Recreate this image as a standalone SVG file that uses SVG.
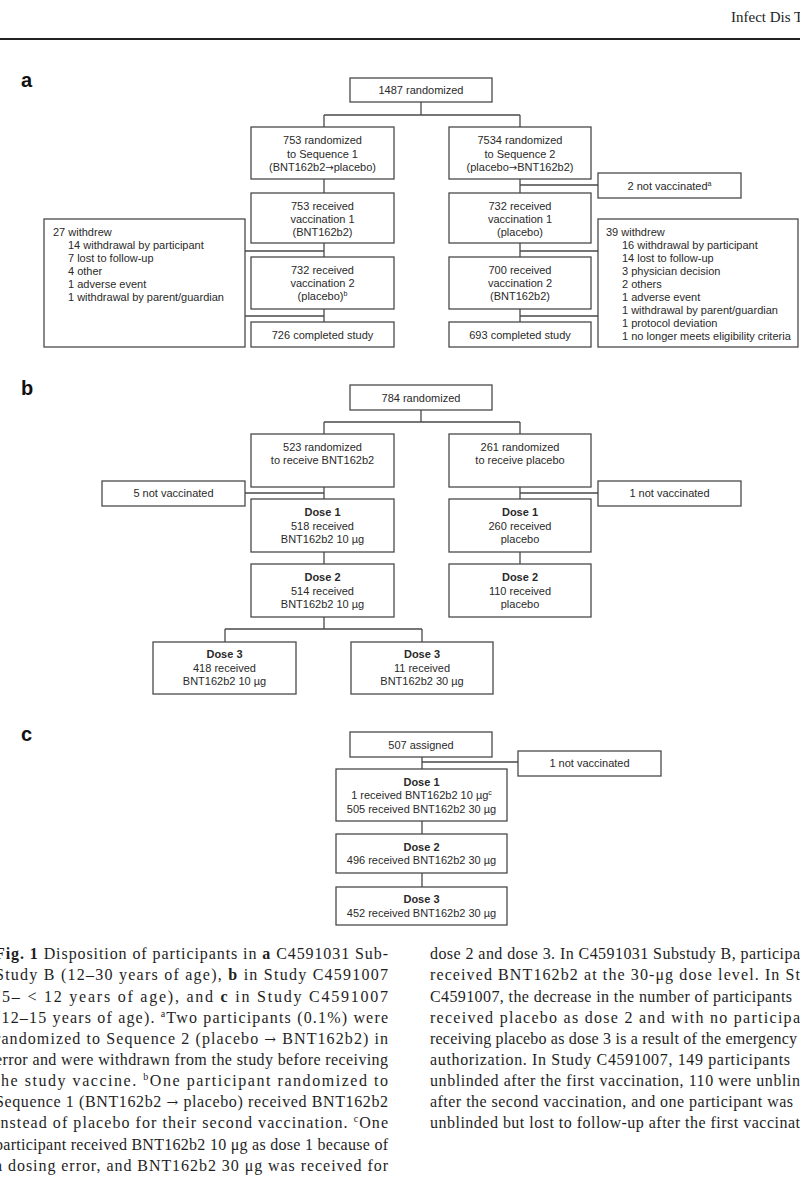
<svg xmlns="http://www.w3.org/2000/svg" width="800" height="1200" viewBox="0 0 800 1200">
<style>
.bx{fill:#fff;stroke:#4a4a4a;stroke-width:1.3}
.t{font-family:"Liberation Sans",Arial,sans-serif;font-size:11px;fill:#2a2a2a;text-anchor:middle}
.tl{font-family:"Liberation Sans",Arial,sans-serif;font-size:11px;fill:#2a2a2a}
.b{font-weight:bold}
.ar{font-family:"DejaVu Sans",sans-serif;font-size:10px}
.arc{font-family:"DejaVu Serif",serif;font-size:14px}
.lbl{font-family:"Liberation Sans",Arial,sans-serif;font-size:20px;font-weight:bold;fill:#111}
.cap{font-family:"Liberation Serif","Times New Roman",serif;font-size:16px;fill:#1e1e1e}
.hd{font-family:"Liberation Serif","Times New Roman",serif;font-size:15px;fill:#1e1e1e}
.cn{fill:none;stroke:#4a4a4a;stroke-width:1.3}
</style>
<rect width="800" height="1200" fill="#fff"/>
<text class="hd" x="731" y="22">Infect Dis T</text>
<line x1="0" y1="39" x2="800" y2="39" stroke="#222" stroke-width="2"/>

<text class="lbl" x="21" y="87">a</text>
<text class="lbl" x="21" y="395">b</text>
<text class="lbl" x="21" y="741">c</text>

<g id="connectors" class="cn">
<path d="M421 102V115M324 115H520M324 115V127M520 115V127"/>
<path d="M324 179V193M520 179V193M520 185H598"/>
<path d="M324 243V257M245 251H324M520 243V257M520 251H598"/>
<path d="M324 309V322M245 316H324M520 309V322M520 316H598"/>
<path d="M421 410V422M324 422H520M324 422V434M520 422V434"/>
<path d="M324 487V499M245 493H324M520 487V499M520 493H598"/>
<path d="M324 552V564M520 552V564"/>
<path d="M324 617V629M225 629H422M225 629V642M422 629V642"/>
<path d="M422 757V769M422 762H518"/>
<path d="M422 821V834M422 873V887"/>
</g>

<g id="a-randomized"><rect class="bx" x="350" y="78" width="142" height="24"/><text class="t" x="421" y="94">1487 randomized</text></g>
<g id="a-seq1"><rect class="bx" x="251" y="127" width="143" height="52"/><text class="t" x="322.5" y="144">753 randomized</text><text class="t" x="322.5" y="157.5">to Sequence 1</text><text class="t" x="322.5" y="171">(BNT162b2<tspan class="ar">→</tspan>placebo)</text></g>
<g id="a-seq2"><rect class="bx" x="449" y="127" width="142" height="52"/><text class="t" x="520" y="144">7534 randomized</text><text class="t" x="520" y="157.5">to Sequence 2</text><text class="t" x="520" y="171">(placebo<tspan class="ar">→</tspan>BNT162b2)</text></g>
<g id="a-notvacc"><rect class="bx" x="598" y="173" width="143" height="25"/><text class="t" x="669.5" y="190">2 not vaccinated<tspan font-size="7" dy="-4">a</tspan></text></g>
<g id="a-vac1-left"><rect class="bx" x="251" y="193" width="143" height="50"/><text class="t" x="322.5" y="210">753 received</text><text class="t" x="322.5" y="223">vaccination 1</text><text class="t" x="322.5" y="236">(BNT162b2)</text></g>
<g id="a-vac1-right"><rect class="bx" x="449" y="193" width="142" height="50"/><text class="t" x="520" y="210">732 received</text><text class="t" x="520" y="223">vaccination 1</text><text class="t" x="520" y="236">(placebo)</text></g>
<g id="a-vac2-left"><rect class="bx" x="251" y="257" width="143" height="52"/><text class="t" x="322.5" y="274">732 received</text><text class="t" x="322.5" y="287">vaccination 2</text><text class="t" x="322.5" y="300">(placebo)<tspan font-size="7" dy="-4">b</tspan></text></g>
<g id="a-vac2-right"><rect class="bx" x="449" y="257" width="142" height="52"/><text class="t" x="520" y="274">700 received</text><text class="t" x="520" y="287">vaccination 2</text><text class="t" x="520" y="300">(BNT162b2)</text></g>
<g id="a-completed-left"><rect class="bx" x="251" y="322" width="143" height="25"/><text class="t" x="322.5" y="339">726 completed study</text></g>
<g id="a-completed-right"><rect class="bx" x="449" y="322" width="142" height="25"/><text class="t" x="520" y="339">693 completed study</text></g>
<g id="a-withdrew-left"><rect class="bx" x="44" y="219" width="201" height="128"/>
<text class="tl" x="53" y="236">27 withdrew</text>
<text class="tl" x="68" y="249">14 withdrawal by participant</text>
<text class="tl" x="68" y="262">7 lost to follow-up</text>
<text class="tl" x="68" y="275">4 other</text>
<text class="tl" x="68" y="288">1 adverse event</text>
<text class="tl" x="68" y="301">1 withdrawal by parent/guardian</text></g>
<g id="a-withdrew-right"><rect class="bx" x="598" y="219" width="200" height="128"/>
<text class="tl" x="606" y="236">39 withdrew</text>
<text class="tl" x="622" y="249">16 withdrawal by participant</text>
<text class="tl" x="622" y="262">14 lost to follow-up</text>
<text class="tl" x="622" y="275">3 physician decision</text>
<text class="tl" x="622" y="288">2 others</text>
<text class="tl" x="622" y="301">1 adverse event</text>
<text class="tl" x="622" y="314">1 withdrawal by parent/guardian</text>
<text class="tl" x="622" y="327">1 protocol deviation</text>
<text class="tl" x="622" y="340">1 no longer meets eligibility criteria</text></g>

<g id="b-randomized"><rect class="bx" x="350" y="385" width="142" height="25"/><text class="t" x="421" y="402">784 randomized</text></g>
<g id="b-bnt"><rect class="bx" x="251" y="434" width="143" height="53"/><text class="t" x="322.5" y="451">523 randomized</text><text class="t" x="322.5" y="464">to receive BNT162b2</text></g>
<g id="b-placebo"><rect class="bx" x="449" y="434" width="142" height="53"/><text class="t" x="520" y="451">261 randomized</text><text class="t" x="520" y="464">to receive placebo</text></g>
<g id="b-notvacc-left"><rect class="bx" x="102" y="481" width="143" height="25"/><text class="t" x="173.5" y="497">5 not vaccinated</text></g>
<g id="b-notvacc-right"><rect class="bx" x="598" y="481" width="143" height="25"/><text class="t" x="669.5" y="497">1 not vaccinated</text></g>
<g id="b-dose1-left"><rect class="bx" x="251" y="499" width="143" height="53"/><text class="t b" x="322.5" y="516">Dose 1</text><text class="t" x="322.5" y="529.5">518 received</text><text class="t" x="322.5" y="542.5">BNT162b2 10 µg</text></g>
<g id="b-dose1-right"><rect class="bx" x="449" y="499" width="142" height="53"/><text class="t b" x="520" y="516">Dose 1</text><text class="t" x="520" y="529.5">260 received</text><text class="t" x="520" y="542.5">placebo</text></g>
<g id="b-dose2-left"><rect class="bx" x="251" y="564" width="143" height="53"/><text class="t b" x="322.5" y="581">Dose 2</text><text class="t" x="322.5" y="594.5">514 received</text><text class="t" x="322.5" y="607.5">BNT162b2 10 µg</text></g>
<g id="b-dose2-right"><rect class="bx" x="449" y="564" width="142" height="53"/><text class="t b" x="520" y="581">Dose 2</text><text class="t" x="520" y="594.5">110 received</text><text class="t" x="520" y="607.5">placebo</text></g>
<g id="b-dose3-left"><rect class="bx" x="153" y="642" width="143" height="52"/><text class="t b" x="224.5" y="658">Dose 3</text><text class="t" x="224.5" y="671.5">418 received</text><text class="t" x="224.5" y="684.5">BNT162b2 10 µg</text></g>
<g id="b-dose3-right"><rect class="bx" x="351" y="642" width="142" height="52"/><text class="t b" x="422" y="658">Dose 3</text><text class="t" x="422" y="671.5">11 received</text><text class="t" x="422" y="684.5">BNT162b2 30 µg</text></g>

<g id="c-assigned"><rect class="bx" x="350" y="732" width="142" height="25"/><text class="t" x="421" y="749">507 assigned</text></g>
<g id="c-notvacc"><rect class="bx" x="518" y="751" width="143" height="25"/><text class="t" x="589.5" y="767">1 not vaccinated</text></g>
<g id="c-dose1"><rect class="bx" x="336" y="769" width="171" height="52"/><text class="t b" x="421.5" y="786">Dose 1</text><text class="t" x="421.5" y="799">1 received BNT162b2 10 µg<tspan font-size="7" dy="-4">c</tspan></text><text class="t" x="421.5" y="812.5">505 received BNT162b2 30 µg</text></g>
<g id="c-dose2"><rect class="bx" x="336" y="834" width="171" height="39"/><text class="t b" x="421.5" y="851">Dose 2</text><text class="t" x="421.5" y="864">496 received BNT162b2 30 µg</text></g>
<g id="c-dose3"><rect class="bx" x="336" y="887" width="171" height="38"/><text class="t b" x="421.5" y="903">Dose 3</text><text class="t" x="421.5" y="916.5">452 received BNT162b2 30 µg</text></g>

<g id="caption">
<text class="cap" x="-5" y="959" textLength="393" lengthAdjust="spacing"><tspan font-weight="bold">Fig. 1</tspan> Disposition of participants in <tspan font-weight="bold">a</tspan> C4591031 Sub-</text>
<text class="cap" x="-5" y="980" textLength="393" lengthAdjust="spacing">Study B (12–30 years of age), <tspan font-weight="bold">b</tspan> in Study C4591007</text>
<text class="cap" x="-5" y="1001.5" textLength="393" lengthAdjust="spacing">(5– &lt; 12 years of age), and <tspan font-weight="bold">c</tspan> in Study C4591007</text>
<text class="cap" x="-5" y="1022.5" textLength="393" lengthAdjust="spacing">(12–15 years of age). <tspan font-size="10" dy="-6">a</tspan><tspan dy="6">Two participants (0.1%) were</tspan></text>
<text class="cap" x="-5" y="1043.5" textLength="393" lengthAdjust="spacing">randomized to Sequence 2 (placebo <tspan class="arc">→</tspan> BNT162b2) in</text>
<text class="cap" x="-5" y="1064.5" textLength="393" lengthAdjust="spacing">error and were withdrawn from the study before receiving</text>
<text class="cap" x="-5" y="1086" textLength="393" lengthAdjust="spacing">the study vaccine. <tspan font-size="10" dy="-6">b</tspan><tspan dy="6">One participant randomized to</tspan></text>
<text class="cap" x="-5" y="1107" textLength="393" lengthAdjust="spacing">Sequence 1 (BNT162b2 <tspan class="arc">→</tspan> placebo) received BNT162b2</text>
<text class="cap" x="-5" y="1128" textLength="393" lengthAdjust="spacing">instead of placebo for their second vaccination. <tspan font-size="10" dy="-6">c</tspan><tspan dy="6">One</tspan></text>
<text class="cap" x="-5" y="1149.5" textLength="393" lengthAdjust="spacing">participant received BNT162b2 10 μg as dose 1 because of</text>
<text class="cap" x="-5" y="1170.5" textLength="393" lengthAdjust="spacing">a dosing error, and BNT162b2 30 μg was received for</text>

<text class="cap" x="430" y="959" textLength="370" lengthAdjust="spacing">dose 2 and dose 3. In C4591031 Substudy B, participa</text>
<text class="cap" x="430" y="980" textLength="370" lengthAdjust="spacing">received BNT162b2 at the 30-μg dose level. In St</text>
<text class="cap" x="430" y="1001.5" textLength="362" lengthAdjust="spacing">C4591007, the decrease in the number of participants</text>
<text class="cap" x="430" y="1022.5" textLength="370" lengthAdjust="spacing">received placebo as dose 2 and with no participa</text>
<text class="cap" x="430" y="1043.5" textLength="367" lengthAdjust="spacing">receiving placebo as dose 3 is a result of the emergency</text>
<text class="cap" x="430" y="1064.5" textLength="360" lengthAdjust="spacing">authorization. In Study C4591007, 149 participants</text>
<text class="cap" x="430" y="1086" textLength="370" lengthAdjust="spacing">unblinded after the first vaccination, 110 were unblin</text>
<text class="cap" x="430" y="1107" textLength="363" lengthAdjust="spacing">after the second vaccination, and one participant was</text>
<text class="cap" x="430" y="1128" textLength="370" lengthAdjust="spacing">unblinded but lost to follow-up after the first vaccinat</text>
</g>
</svg>
